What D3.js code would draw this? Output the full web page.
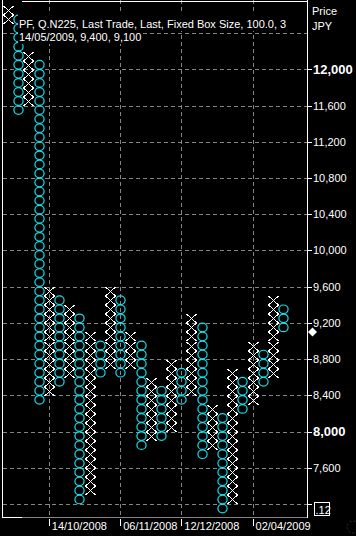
<!DOCTYPE html>
<html><head><meta charset="utf-8">
<script src="https://cdn.jsdelivr.net/npm/d3@7"></script>
<style>html,body{margin:0;padding:0;background:#000;overflow:hidden;} svg{display:block;}</style>
</head><body>
<script>
// ---- data ----
const colTypes = ["X","O","X","O","X","O","X","O","X","O","X","O","X","O","X","O","X","O","X","O","X","O","X","O","X","O","X","O"];
const colLow  = [12500,11500,11600,8300,8400,8500,8600,7200,7300,8600,8700,8600,8700,7800,7900,7900,8000,8300,8400,7700,7800,7100,7200,8200,8300,8500,8600,9100];
const colHigh = [12600,12500,12100,12000,9500,9400,9300,9200,9000,8900,9500,9400,9000,8900,8500,8400,8700,8600,9200,9100,8200,8100,8600,8500,8900,8800,9400,9300];
const boxSize = 100;
const gridPrices = [12400,12000,11600,11200,10800,10400,10000,9600,9200,8800,8400,8000,7600,7200];
const tickLabels = ["12,000","11,600","11,200","10,800","10,400","10,000","9,600","9,200","8,800","8,400","8,000","7,600"];
const tickValues = [12000,11600,11200,10800,10400,10000,9600,9200,8800,8400,8000,7600];
const boldTicks = [12000, 8000];
const dateLabels = ["14/10/2008","06/11/2008","12/12/2008","02/04/2009"];
const dateCols = [4, 11, 17, 24];
const headerLines = ["PF, Q.N225, Last Trade, Last, Fixed Box Size, 100.0, 3", "14/05/2009, 9,400, 9,100"];
const axisTitle = ["Price", "JPY"];
const lastPrice = 9100;
const scaleBoxText = ".12";

// ---- drawing ----
const W = 356, H = 536;
const plotL = 3, plotR = 307.5, plotB = 517;
const font = "'Liberation Sans', Arial, sans-serif";
const cyan = "#12e0ec";
const gridCol = "#858585";

const svg = d3.select("body").append("svg").attr("width", W).attr("height", H);
svg.append("rect").attr("width", W).attr("height", H).attr("fill", "#000");

const x = d3.scaleLinear().domain([-0.5, 29.39]).range([plotL, plotR]);
const y = d3.scaleLinear().domain([7200, 12000]).range([504, 69.3]);

svg.append("defs").append("clipPath").attr("id", "plotclip")
  .append("rect").attr("x", plotL).attr("y", 0).attr("width", plotR - plotL).attr("height", plotB);

// grid
const grid = svg.append("g").attr("stroke", gridCol).attr("stroke-dasharray", "4,3").attr("shape-rendering", "crispEdges");
grid.selectAll("line.h").data(gridPrices).join("line").attr("class", "h")
  .attr("x1", plotL).attr("x2", plotR).attr("y1", d => Math.round(y(d)) + 0.5).attr("y2", d => Math.round(y(d)) + 0.5);
grid.selectAll("line.v").data(dateCols).join("line").attr("class", "v")
  .attr("x1", d => Math.round(x(d)) + 0.5).attr("x2", d => Math.round(x(d)) + 0.5).attr("y1", 0).attr("y2", plotB);

// columns
const cols = colTypes.map((t, i) => ({t, i, boxes: d3.range(colLow[i], colHigh[i] + 1, boxSize)}));
const marks = svg.append("g").attr("clip-path", "url(#plotclip)");
cols.forEach(c => {
  const cx = Math.round(x(c.i)) + 0.5;
  const g = marks.append("g");
  if (c.t === "X") {
    g.selectAll("path").data(c.boxes).join("path")
      .attr("d", p => { const cy = Math.round(y(p + boxSize / 2)) + 0.5; return `M${cx-5},${cy-4.5}L${cx+5},${cy+4.5}M${cx-5},${cy+4.5}L${cx+5},${cy-4.5}`; })
      .attr("stroke", "#fff").attr("stroke-width", 1).attr("fill", "none").attr("shape-rendering", "crispEdges");
  } else {
    g.selectAll("ellipse").data(c.boxes).join("ellipse")
      .attr("cx", cx).attr("cy", p => y(p + boxSize / 2)).attr("rx", 4.6).attr("ry", 4.3)
      .attr("stroke", cyan).attr("stroke-width", 1.2).attr("fill", "none");
  }
});

// header with black background
headerLines.forEach((s, k) => {
  const g = svg.append("g");
  const r = g.append("rect").attr("fill", "#000").attr("x", 18).attr("y", k === 0 ? 13 : 31).attr("height", k === 0 ? 18 : 13);
  const t = g.append("text").attr("x", 19).attr("y", k === 0 ? 28 : 41)
    .attr("fill", "#fff").attr("font-family", font).attr("font-size", 11).text(s);
  r.attr("width", t.node().getComputedTextLength() + 2);
});

// borders
const b = svg.append("g").attr("shape-rendering", "crispEdges");
b.append("line").attr("x1", 2.5).attr("x2", 2.5).attr("y1", 0).attr("y2", plotB + 0.5).attr("stroke", "#fff");
b.append("line").attr("x1", 3).attr("x2", plotR).attr("y1", plotB + 0.5).attr("y2", plotB + 0.5).attr("stroke", gridCol);
b.append("line").attr("x1", 2).attr("x2", 22).attr("y1", plotB + 0.5).attr("y2", plotB + 0.5).attr("stroke", "#fff");
b.append("line").attr("x1", 22).attr("x2", plotR).attr("y1", 1.5).attr("y2", 1.5).attr("stroke", "#fff");
b.append("line").attr("x1", plotR).attr("x2", plotR).attr("y1", 0).attr("y2", plotB + 0.5).attr("stroke", "#fff");

// right axis
const ax = svg.append("g");
ax.selectAll("line").data(gridPrices.filter(d => d <= 12000)).join("line")
  .attr("x1", plotR).attr("x2", plotR + 4).attr("y1", d => Math.round(y(d)) + 0.5).attr("y2", d => Math.round(y(d)) + 0.5)
  .attr("stroke", "#fff").attr("shape-rendering", "crispEdges");
ax.selectAll("text.tl").data(tickValues).join("text").attr("class", "tl")
  .attr("x", 313).attr("y", d => y(d) + (boldTicks.includes(d) ? 4.8 : 4))
  .attr("fill", "#fff").attr("font-family", font)
  .attr("font-size", d => boldTicks.includes(d) ? 13 : 11)
  .attr("font-weight", d => boldTicks.includes(d) ? "bold" : "normal")
  .text((d, i) => tickLabels[i]);
axisTitle.forEach((s, k) => ax.append("text").attr("x", 312).attr("y", k === 0 ? 15 : 30)
  .attr("fill", "#fff").attr("font-family", font).attr("font-size", 11).text(s));

// scale box at bottom
const sb = svg.append("g");
sb.append("rect").attr("x", 314.5).attr("y", 502.5).attr("width", 15).attr("height", 13)
  .attr("fill", "none").attr("stroke", "#fff").attr("shape-rendering", "crispEdges");
sb.append("text").attr("x", 315.5).attr("y", 513.5).attr("fill", "#fff").attr("font-family", font).attr("font-size", 11).text(scaleBoxText);

// last price marker
const ly = y(lastPrice);
svg.append("path").attr("d", `M312.5,${ly-4.5}L317,${ly}L312.5,${ly+4.5}L308,${ly}Z`).attr("fill", "#fff");

// faint circle bottom right
svg.append("circle").attr("cx", 353).attr("cy", 527).attr("r", 6).attr("fill", "none")
  .attr("stroke", "#333").attr("stroke-dasharray", "2,2");

// date axis
const dx = svg.append("g");
dx.selectAll("line").data(dateCols).join("line")
  .attr("x1", d => Math.round(x(d)) + 0.5).attr("x2", d => Math.round(x(d)) + 0.5).attr("y1", 519).attr("y2", 526)
  .attr("stroke", "#fff").attr("shape-rendering", "crispEdges");
dx.selectAll("text").data(dateCols).join("text")
  .attr("x", d => x(d) + 3).attr("y", 530).attr("fill", "#fff").attr("font-family", font).attr("font-size", 11)
  .text((d, i) => dateLabels[i]);
</script>
</body></html>
